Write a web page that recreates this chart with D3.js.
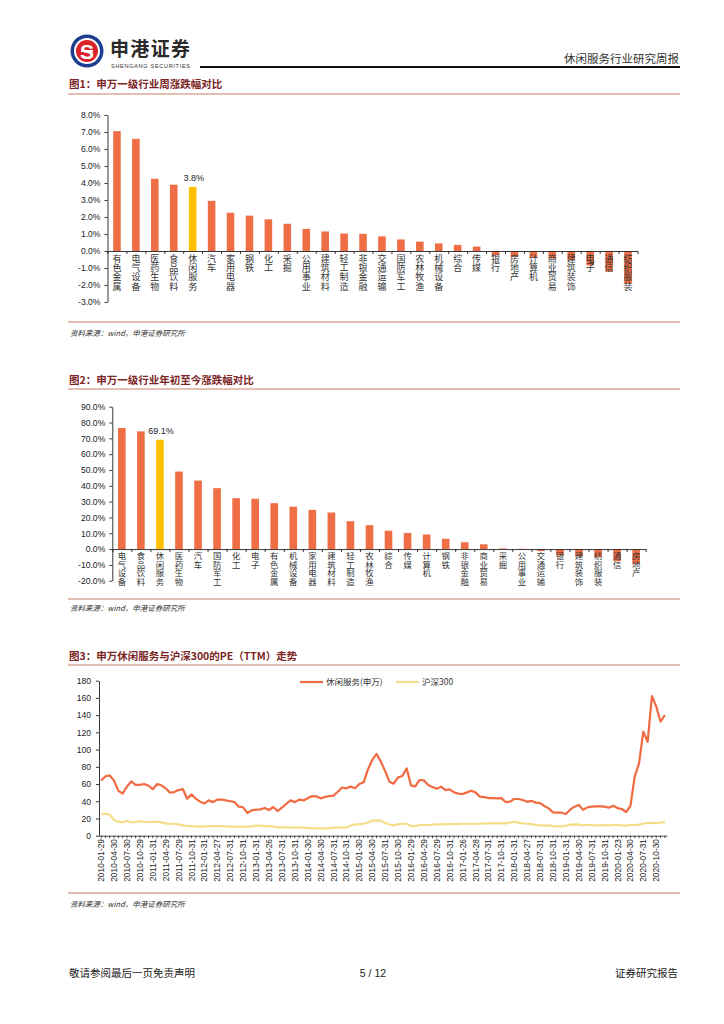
<!DOCTYPE html>
<html><head><meta charset="utf-8">
<script src="https://cdn.jsdelivr.net/npm/d3@7/dist/d3.min.js"></script>
<style>
html,body{margin:0;padding:0;background:#fff;}
svg{display:block;}
</style></head>
<body>
<svg id="page" width="724" height="1024"></svg>
<script>
// ---------- DATA ----------
const weekCategories = ['有色金属','电气设备','医药生物','食品饮料','休闲服务','汽车','家用电器','钢铁','化工','采掘','公用事业','建筑材料','轻工制造','非银金融','交通运输','国防军工','农林牧渔','机械设备','综合','传媒','银行','房地产','计算机','商业贸易','建筑装饰','电子','通信','纺织服装'];
const weekValues = [7.05,6.6,4.25,3.9,3.77,2.95,2.25,2.08,1.86,1.6,1.3,1.15,1.03,1.01,0.86,0.68,0.55,0.45,0.36,0.26,-0.25,-0.33,-0.37,-0.43,-0.52,-0.85,-1.2,-1.92];
const weekTicks = [8,7,6,5,4,3,2,1,0,-1,-2,-3];
const weekLabel = '3.8%';

const ytdCategories = ['电气设备','食品饮料','休闲服务','医药生物','汽车','国防军工','化工','电子','有色金属','机械设备','家用电器','建筑材料','轻工制造','农林牧渔','综合','传媒','计算机','钢铁','非银金融','商业贸易','采掘','公用事业','交通运输','银行','建筑装饰','纺织服装','通信','房地产'];
const ytdValues = [76.5,74.4,69.1,49.0,43.3,38.5,32.2,31.8,29.0,26.8,24.8,23.1,17.6,15.1,11.6,10.2,9.2,6.5,4.3,3.0,0.4,0.2,-1.3,-4.0,-4.5,-5.1,-7.6,-9.1];
const ytdTicks = [90,80,70,60,50,40,30,20,10,0,-10,-20];
const ytdLabel = '69.1%';

const highlightName = '休闲服务';

const peLeisure = [64,69,70,64,52,49,57,63,59,59,60,58,54,60,58.5,55,50,50.7,53,54,43,48,43,39.5,37.5,41,39,42,42,41,40,39,33.7,33,26.3,29.4,30.2,30.6,32.1,29.8,33.3,28.6,32.5,36.8,41,39,41.8,41,43.4,46,45.7,43.4,44.9,46,46.5,51,56,55,57,55,60,62,77,88,95,86,75,62.7,60.4,67.7,69.3,78.2,58.5,57.3,64.7,64.3,58.8,56.5,54.6,56.9,53,53.8,50.3,48.8,48.4,50.3,52.3,50.3,45.3,44.9,43.7,43.7,43.4,43.7,39.1,39.5,42.6,42.6,41.4,39.3,40.5,38.3,37.9,34.5,31.7,27.1,26.7,26.7,25.2,30.2,33.7,35.6,30.2,32.9,33.7,34,34,33.7,32.5,34.8,32.1,31,27.5,34.5,68.5,84,120.8,109,162,150,132.4,140];
const peHS300 = [25.2,25.5,24.4,18.2,16.3,15.5,17,15.5,15.9,17,15.9,15.9,15.9,16.3,15.5,14.3,13.9,13.9,13.2,12,11.2,11.2,10.8,10.5,10.8,11.2,11.2,11.2,11.2,10.8,10.5,10.5,10.5,10.5,10.5,10.8,11.6,11.6,11.2,10.8,10.8,9.7,9.7,9.7,9.7,9.3,9.3,9.3,8.9,8.9,8.5,8.5,8.5,8.9,9.3,9.3,9.3,9.7,11.6,13.2,13.2,13.9,15.5,17.4,17.8,17.4,14.7,13,12,13.5,13.9,13.9,11.2,11.2,12.4,12.4,12.4,12.8,13.2,13.2,13.5,13.5,13.5,13.5,13.9,13.9,13.9,13.9,13.9,14.3,14.3,14.3,14.3,14.3,14.3,15.1,16.3,15.1,14.3,13.9,13.5,12.4,12,11.6,12,11.2,10.8,10.8,11.6,12.8,13.2,12.8,12,12.4,12.4,12,12,12.4,12,12.4,12.4,12,11.6,12.4,12.4,12.8,13.9,15.1,14.7,14.7,15.1,16.3];
const peTickLabels = ['2010-01-29','2010-04-30','2010-07-30','2010-10-29','2011-01-31','2011-04-29','2011-07-29','2011-10-31','2012-01-31','2012-04-27','2012-07-31','2012-10-31','2013-01-31','2013-04-26','2013-07-31','2013-10-31','2014-01-30','2014-04-30','2014-07-31','2014-10-31','2015-01-30','2015-04-30','2015-07-31','2015-10-30','2016-01-29','2016-04-29','2016-07-29','2016-10-31','2017-01-26','2017-04-28','2017-07-31','2017-10-31','2018-01-31','2018-04-27','2018-07-31','2018-10-31','2019-01-31','2019-04-30','2019-07-31','2019-10-31','2020-01-23','2020-04-30','2020-07-31','2020-10-30'];
const peYTicks = [0,20,40,60,80,100,120,140,160,180];
const seriesNames = ['休闲服务(申万)','沪深300'];

// ---------- STYLE ----------
const BAR = '#EF6E45', HL = '#FFC000', LINE1 = '#F06A42', LINE2 = '#F4DD88';
const CJK = '"Noto Sans CJK SC","Noto Sans",sans-serif';
const NUM = '"Liberation Sans",Arial,sans-serif';
const TITLE = '#7B2525', RULE = '#C98068';

const svg = d3.select('#page');

// ---------- HEADER ----------
const logo = svg.append('g').attr('transform','translate(87,51)');
logo.append('circle').attr('r',16.5).attr('fill','#1D3E8F');
logo.append('circle').attr('r',13).attr('fill','#fff');
logo.append('circle').attr('r',11).attr('fill','#D9222A');
logo.append('text').attr('y',7.5).attr('text-anchor','middle').attr('font-family',NUM).attr('font-weight','bold')
  .attr('font-size',21).attr('fill','#fff').text('S');
logo.append('rect').attr('x',-6).attr('y',-1).attr('width',12).attr('height',2).attr('fill','#fff');
svg.append('text').attr('x',110).attr('y',56).attr('font-family',CJK).attr('font-weight','bold').attr('font-size',19)
  .attr('fill','#2a2a2a').attr('textLength',80).text('申港证券');
svg.append('text').attr('x',111).attr('y',68).attr('font-family',NUM).attr('font-size',5.6)
  .attr('fill','#333').attr('textLength',79).text('SHENGANG SECURITIES');
svg.append('line').attr('x1',200).attr('x2',680).attr('y1',67).attr('y2',67).attr('stroke','#111').attr('stroke-width',2);
svg.append('text').attr('x',679).attr('y',63).attr('text-anchor','end').attr('font-family',CJK).attr('font-size',11.5)
  .attr('fill','#333').text('休闲服务行业研究周报');

// ---------- FOOTER ----------
svg.append('text').attr('x',69).attr('y',977).attr('font-family',CJK).attr('font-size',10.5).attr('fill','#222').text('敬请参阅最后一页免责声明');
svg.append('text').attr('x',373).attr('y',977).attr('text-anchor','middle').attr('font-family',NUM).attr('font-size',10.5).attr('fill','#222').text('5 / 12');
svg.append('text').attr('x',678).attr('y',977).attr('text-anchor','end').attr('font-family',CJK).attr('font-size',10.5).attr('fill','#222').text('证券研究报告');

function section(title, titleY, ruleY, bottomRuleY, sourceY){
  svg.append('text').attr('x',69).attr('y',titleY).attr('font-family',CJK).attr('font-weight','bold').attr('font-size',10.5)
    .attr('fill',TITLE).text(title);
  svg.append('line').attr('x1',68).attr('x2',680).attr('y1',ruleY).attr('y2',ruleY).attr('stroke',RULE).attr('stroke-width',1.2);
  svg.append('line').attr('x1',68).attr('x2',680).attr('y1',bottomRuleY).attr('y2',bottomRuleY).attr('stroke',RULE).attr('stroke-width',1.2);
  svg.append('text').attr('x',70).attr('y',sourceY).attr('font-family',CJK).attr('font-style','italic').attr('font-size',7.5)
    .attr('fill','#333').text('资料来源：wind，申港证券研究所');
}

function barChart(cfg){
  const {cats, vals, ticks, yTop, yBot, xL, xR, fmt, label, labelSize, charStep, charSize} = cfg;
  const y = d3.scaleLinear().domain([d3.min(ticks), d3.max(ticks)]).range([yBot, yTop]);
  const x = d3.scaleBand().domain(cats).range([xL, xR]).paddingInner(0.6).paddingOuter(0.3);
  const g = svg.append('g');
  const ya = g.append('g').attr('transform',`translate(${xL},0)`)
    .call(d3.axisLeft(y).tickValues(ticks).tickFormat(fmt).tickSize(3).tickSizeOuter(0));
  ya.selectAll('path,line').attr('stroke','#222').attr('stroke-width',0.9);
  ya.selectAll('text').attr('font-family',NUM).attr('font-size',8.6).attr('fill','#222').attr('dx',-1);
  g.selectAll('rect.bar').data(cats).join('rect').attr('class','bar')
    .attr('x',d=>x(d)).attr('width',x.bandwidth())
    .attr('y',(d,i)=>Math.min(y(vals[i]),y(0)))
    .attr('height',(d,i)=>Math.abs(y(vals[i])-y(0)))
    .attr('fill',d=>d===highlightName?HL:BAR);
  const xb = d3.scaleLinear().domain([0,cats.length]).range([xL,xR]);
  const xa = g.append('g').attr('transform',`translate(0,${y(0)})`)
    .call(d3.axisBottom(xb).tickValues(d3.range(cats.length+1)).tickFormat('').tickSize(3).tickSizeOuter(0));
  xa.selectAll('path,line').attr('stroke','#222').attr('stroke-width',0.9);
  // category labels: one character per line, stacked vertically
  cats.forEach((c)=>{
    const t = g.append('text').attr('font-family',CJK).attr('font-size',charSize).attr('fill','#333').attr('text-anchor','middle');
    [...c].forEach((ch,k)=>{
      t.append('tspan').attr('x',x(c)+x.bandwidth()/2).attr('y',y(0)+charSize+1.5+k*charStep).text(ch);
    });
  });
  const hi = cats.indexOf(highlightName);
  g.append('text').attr('x',x(highlightName)+x.bandwidth()/2+1).attr('y',y(vals[hi])-6)
    .attr('text-anchor','middle').attr('font-family',NUM).attr('font-size',labelSize).attr('fill','#222').text(label);
}

// ---------- CHART 1 ----------
section('图1：申万一级行业周涨跌幅对比', 88, 94, 322, 336);
barChart({cats:weekCategories, vals:weekValues, ticks:weekTicks, yTop:115, yBot:302, xL:107.5, xR:637.5,
  fmt:d=>d.toFixed(1)+'%', label:weekLabel, labelSize:9, charStep:9.4, charSize:9});

// ---------- CHART 2 ----------
section('图2：申万一级行业年初至今涨跌幅对比', 384, 389, 599, 611);
barChart({cats:ytdCategories, vals:ytdValues, ticks:ytdTicks, yTop:406.7, yBot:580.7, xL:112.3, xR:645.7,
  fmt:d=>d.toFixed(1)+'%', label:ytdLabel, labelSize:9, charStep:8.6, charSize:8.4});

// ---------- CHART 3 ----------
section('图3：申万休闲服务与沪深300的PE（TTM）走势', 660, 665, 893, 907);
(function(){
  const n = peLeisure.length;
  const y = d3.scaleLinear().domain([0,180]).range([835.7,680.7]);
  const x = d3.scaleBand().domain(d3.range(n)).range([99,667]);
  const cx = i => x(i)+x.bandwidth()/2;
  const g = svg.append('g');
  const ya = g.append('g').attr('transform','translate(99,0)')
    .call(d3.axisLeft(y).tickValues(peYTicks).tickSize(3).tickSizeOuter(0));
  ya.selectAll('path,line').attr('stroke','#222').attr('stroke-width',0.9);
  ya.selectAll('text').attr('font-family',NUM).attr('font-size',8.6).attr('fill','#222').attr('dx',-2);
  const xa = g.append('g').attr('transform','translate(0,835.7)')
    .call(d3.axisBottom(x).tickValues(d3.range(n)).tickFormat('').tickSize(2.5).tickSizeOuter(0));
  xa.selectAll('path,line').attr('stroke','#222').attr('stroke-width',0.8);
  g.selectAll('text.dl').data(peTickLabels).join('text').attr('class','dl')
    .attr('transform',(d,k)=>`translate(${cx(k*3)+3},${839})rotate(-90)`)
    .attr('text-anchor','end').attr('font-family',NUM).attr('font-size',8.4).attr('fill','#222').text(d=>d);
  const line = d3.line().x((d,i)=>cx(i)).y(d=>y(d));
  g.append('path').datum(peHS300).attr('d',line).attr('fill','none').attr('stroke',LINE2).attr('stroke-width',2.2).attr('stroke-linejoin','round');
  g.append('path').datum(peLeisure).attr('d',line).attr('fill','none').attr('stroke',LINE1).attr('stroke-width',2.2).attr('stroke-linejoin','round');
  const lg = [{x:300, c:LINE1, t:seriesNames[0]},{x:396, c:LINE2, t:seriesNames[1]}];
  lg.forEach(l=>{
    g.append('line').attr('x1',l.x).attr('x2',l.x+23).attr('y1',682).attr('y2',682).attr('stroke',l.c).attr('stroke-width',2.2);
    g.append('text').attr('x',l.x+26).attr('y',685).attr('font-family',CJK).attr('font-size',8.5).attr('fill','#333').text(l.t);
  });
})();
</script>
</body></html>
